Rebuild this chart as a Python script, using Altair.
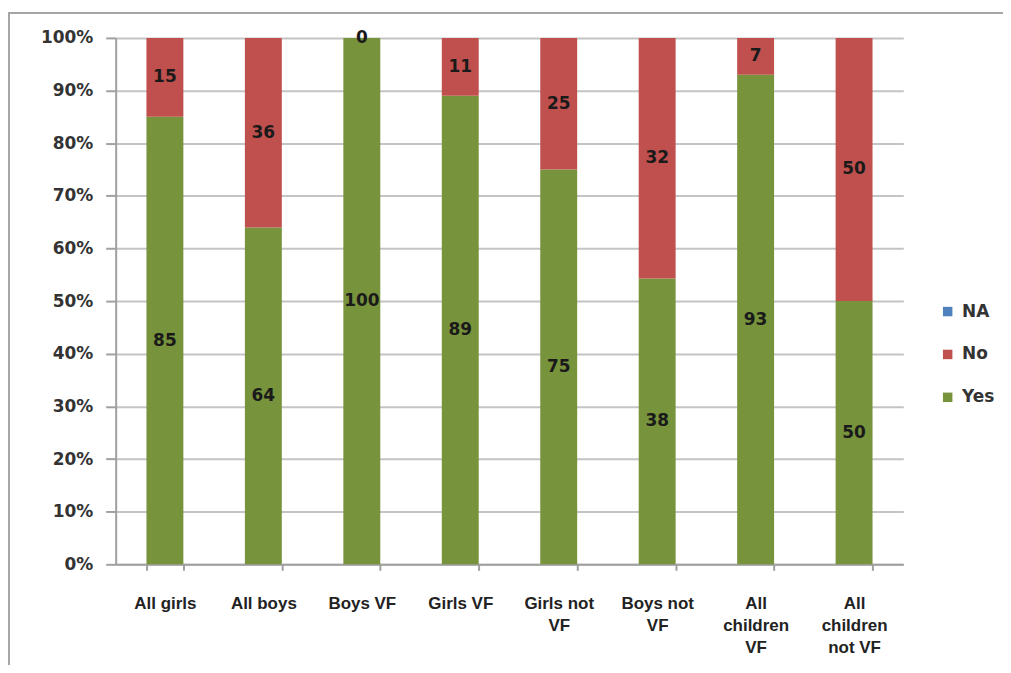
import altair as alt
import pandas as pd

categories = ["All girls", "All boys", "Boys VF", "Girls VF", "Girls not\nVF",
              "Boys not\nVF", "All\nchildren\nVF", "All\nchildren\nnot VF"]
yes_vals = [85, 64, 100, 89, 75, 38, 93, 50]
no_vals = [15, 36, 0, 11, 25, 32, 7, 50]
na_vals = [0, 0, 0, 0, 0, 0, 0, 0]
series = ["NA", "No", "Yes"]
colors = ["#4F81BD", "#C0504D", "#77933C"]

rows = []
for i, c in enumerate(categories):
    rows.append({"cat": c, "series": "Yes", "value": yes_vals[i], "ord": 0})
    rows.append({"cat": c, "series": "No", "value": no_vals[i], "ord": 1})
    rows.append({"cat": c, "series": "NA", "value": na_vals[i], "ord": 2})
df = pd.DataFrame(rows)

FONT = "DejaVu Sans"

x_enc = alt.X("cat:N", sort=categories, title=None,
              scale=alt.Scale(paddingInner=0.625, paddingOuter=0.3125),
              axis=alt.Axis(labelAngle=0, labelExpr="split(datum.label, '\\n')",
                            labelFont="Liberation Sans", labelFontSize=17,
                            labelFontWeight="bold", labelColor="#222222",
                            labelLineHeight=22, labelPadding=25, labelBaseline="top",
                            tickBand="extent", ticks=True, tickSize=6,
                            tickColor="#a0a0a0", tickWidth=2,
                            domainColor="#a0a0a0", domainWidth=2, grid=False))

bars = alt.Chart(df).mark_bar().encode(
    x=x_enc,
    y=alt.Y("value:Q", stack="normalize", title=None,
            scale=alt.Scale(domain=[0, 1]),
            axis=alt.Axis(format=".0%", values=[i / 10 for i in range(11)],
                          labelFont=FONT, labelFontSize=17, labelFontWeight="bold",
                          labelColor="#333333", labelPadding=13, tickSize=10,
                          tickColor="#a0a0a0", tickWidth=2,
                          domainColor="#a0a0a0", domainWidth=2,
                          gridColor="#c4c4c4", gridWidth=2)),
    color=alt.Color("series:N", sort=series,
                    scale=alt.Scale(domain=series, range=colors),
                    legend=alt.Legend(title=None, orient="none", legendX=826, legendY=266,
                                      symbolType="square", symbolSize=90,
                                      symbolStrokeWidth=0,
                                      labelFont=FONT, labelFontSize=17,
                                      labelFontWeight="bold", labelColor="#333333",
                                      rowPadding=25, labelOffset=6)),
    order=alt.Order("ord:Q"),
)

labels = alt.Chart(df[df["series"] != "NA"]).mark_text(
    font=FONT, fontSize=17, fontWeight="bold", color="#1a1a1a", baseline="middle"
).encode(
    x=alt.X("cat:N", sort=categories),
    y=alt.Y("value:Q", stack="normalize", bandPosition=0.5),
    text=alt.Text("value:Q"),
    order=alt.Order("ord:Q"),
)

frame = alt.Chart(pd.DataFrame({"a": [0]})).mark_rect(
    fill=None, stroke="#a6a6a6", strokeWidth=2
).encode(x=alt.value(-107), x2=alt.value(1000), y=alt.value(-25), y2=alt.value(700))

chart = alt.layer(frame, bars, labels).properties(
    width=790, height=528,
    autosize=alt.AutoSizeParams(type="none"),
    padding={"left": 108, "top": 29, "right": 100, "bottom": 100},
).configure_view(stroke=None)

chart.save("out.html", embed_options={"renderer": "svg", "actions": False})
